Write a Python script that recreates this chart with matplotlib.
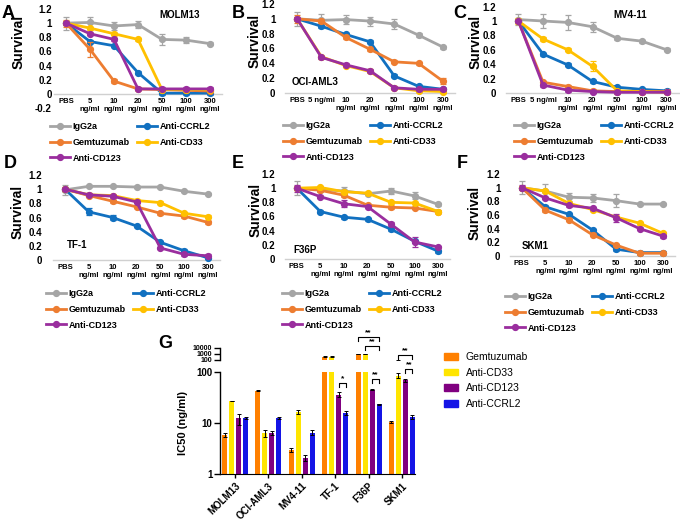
import matplotlib
matplotlib.use('Agg')
import matplotlib.pyplot as plt
import numpy as np
from matplotlib.lines import Line2D
from matplotlib.patches import Patch

plt.rcParams['font.family'] = ['Liberation Sans', 'DejaVu Sans']
plt.rcParams['font.weight'] = 'bold'
plt.rcParams['axes.labelweight'] = 'bold'

W, H = 680, 524
fig = plt.figure(figsize=(W / 100, H / 100), dpi=100)


def rect(l, r, t, b):
    return [l / W, 1 - b / H, (r - l) / W, (b - t) / H]


# ---------------- data ----------------
series_names = ['IgG2a', 'Anti-CCRL2', 'Gemtuzumab', 'Anti-CD33', 'Anti-CD123']
series_colors = ['#A5A5A5', '#1170C0', '#ED7D31', '#FFC000', '#9A2E9E']
doses = ['PBS', '5', '10', '20', '50', '100', '300']

# MOLM13
molm13_igg2a = [1.00, 1.01, 0.96, 0.98, 0.77, 0.76, 0.71]
molm13_ccrl2 = [1.00, 0.74, 0.68, 0.30, 0.01, 0.01, 0.01]
molm13_gem = [1.00, 0.63, 0.18, 0.07, 0.06, 0.05, 0.04]
molm13_cd33 = [1.00, 0.93, 0.85, 0.77, 0.06, 0.06, 0.06]
molm13_cd123 = [1.00, 0.85, 0.77, 0.07, 0.07, 0.07, 0.07]
molm13_err_igg2a = [0.09, 0.08, 0.05, 0.05, 0.08, 0.04, 0.02]
molm13_err_gem = [0.05, 0.11, 0.03, 0.02, 0.02, 0.02, 0.02]

# OCI-AML3
oci_igg2a = [1.00, 0.98, 0.99, 0.97, 0.93, 0.78, 0.62]
oci_ccrl2 = [1.00, 0.90, 0.79, 0.69, 0.23, 0.09, 0.05]
oci_gem = [1.00, 0.97, 0.75, 0.59, 0.42, 0.40, 0.16]
oci_cd33 = [1.00, 0.49, 0.37, 0.29, 0.07, 0.03, 0.02]
oci_cd123 = [1.00, 0.48, 0.38, 0.30, 0.07, 0.05, 0.05]
oci_err_igg2a = [0.09, 0.09, 0.06, 0.06, 0.07, 0.03, 0.02]
oci_err_gem = [0.05, 0.03, 0.02, 0.02, 0.02, 0.02, 0.04]

# MV4-11
mv4_igg2a = [1.02, 1.00, 0.98, 0.92, 0.76, 0.72, 0.60]
mv4_ccrl2 = [1.00, 0.54, 0.39, 0.16, 0.08, 0.05, 0.03]
mv4_gem = [1.00, 0.15, 0.09, 0.03, 0.02, 0.02, 0.02]
mv4_cd33 = [1.00, 0.75, 0.60, 0.37, 0.03, 0.02, 0.01]
mv4_cd123 = [1.00, 0.11, 0.04, 0.02, 0.01, 0.01, 0.01]
mv4_err_igg2a = [0.08, 0.10, 0.10, 0.07, 0.02, 0.02, 0.02]
mv4_err_cd33 = [0.04, 0.03, 0.02, 0.07, 0.01, 0.01, 0.01]

# TF-1
tf1_igg2a = [0.99, 1.04, 1.04, 1.03, 1.03, 0.97, 0.93]
tf1_ccrl2 = [1.00, 0.68, 0.60, 0.48, 0.25, 0.13, 0.03]
tf1_gem = [1.00, 0.91, 0.83, 0.75, 0.66, 0.62, 0.53]
tf1_cd33 = [1.00, 0.92, 0.91, 0.84, 0.81, 0.66, 0.61]
tf1_cd123 = [1.00, 0.92, 0.90, 0.82, 0.17, 0.08, 0.06]
tf1_err_igg2a = [0.07, 0.01, 0.01, 0.01, 0.01, 0.01, 0.01]
tf1_err_ccrl2 = [0.03, 0.05, 0.04, 0.02, 0.02, 0.02, 0.01]

# F36P
f36p_igg2a = [1.00, 0.98, 0.96, 0.92, 0.96, 0.89, 0.77]
f36p_ccrl2 = [1.00, 0.67, 0.59, 0.56, 0.42, 0.25, 0.11]
f36p_gem = [1.00, 0.97, 0.90, 0.76, 0.73, 0.72, 0.67]
f36p_cd33 = [1.00, 1.01, 0.95, 0.93, 0.80, 0.79, 0.67]
f36p_cd123 = [1.00, 0.88, 0.78, 0.74, 0.49, 0.24, 0.17]
f36p_err_igg2a = [0.10, 0.03, 0.06, 0.02, 0.04, 0.05, 0.02]
f36p_err_cd123 = [0.05, 0.02, 0.05, 0.02, 0.03, 0.07, 0.02]

# SKM1
skm1_igg2a = [1.00, 0.95, 0.86, 0.85, 0.81, 0.76, 0.76]
skm1_ccrl2 = [1.00, 0.72, 0.61, 0.38, 0.10, 0.05, 0.05]
skm1_gem = [1.00, 0.67, 0.53, 0.31, 0.16, 0.04, 0.04]
skm1_cd33 = [1.00, 0.95, 0.77, 0.68, 0.57, 0.48, 0.33]
skm1_cd123 = [1.00, 0.85, 0.74, 0.70, 0.56, 0.40, 0.29]
skm1_err_igg2a = [0.10, 0.10, 0.06, 0.06, 0.10, 0.02, 0.02]
skm1_err_cd123 = [0.04, 0.02, 0.02, 0.02, 0.06, 0.02, 0.02]

# IC50 (panel G)
cell_lines = ['MOLM13', 'OCI-AML3', 'MV4-11', 'TF-1', 'F36P', 'SKM1']
ic50_gem = [5.8, 43, 3.0, 350, 1000, 10.6]
ic50_cd33 = [27, 6.4, 16.5, 350, 1000, 85]
ic50_cd123 = [12.3, 6.4, 2.1, 36, 45, 69]
ic50_ccrl2 = [12.6, 12.6, 6.5, 16, 23.5, 13.2]
ic50_err_gem = [0.5, 1.5, 0.3, 40, 150, 0.4]
ic50_err_cd33 = [0.6, 1.0, 1.3, 40, 150, 9]
ic50_err_cd123 = [3.0, 0.6, 0.3, 4, 1.5, 5]
ic50_err_ccrl2 = [0.4, 0.4, 0.7, 1.5, 0.6, 1.0]
bar_names = ['Gemtuzumab', 'Anti-CD33', 'Anti-CD123', 'Anti-CCRL2']
bar_colors = ['#FF8000', '#FFE500', '#800080', '#1414E6']

# --------------- line panels ---------------
panels = [
    dict(letter='A', name='MOLM13', box=(54, 222, 9, 108), ylim=(-0.2, 1.2),
         vals=[molm13_igg2a, molm13_ccrl2, molm13_gem, molm13_cd33, molm13_cd123],
         errs={0: molm13_err_igg2a, 2: molm13_err_gem}, onel=False, pad=1.5,
         title_xy=(180, 15), title_ha='center', surv=(19, 42),
         letter_xy=(8, 13), leg=(50, 122)),
    dict(letter='B', name='OCI-AML3', box=(285, 455, 4, 93), ylim=(0, 1.2),
         vals=[oci_igg2a, oci_ccrl2, oci_gem, oci_cd33, oci_cd123],
         errs={0: oci_err_igg2a, 2: oci_err_gem}, onel=True, pad=7,
         title_xy=(292, 82), title_ha='left', surv=(255, 41),
         letter_xy=(238, 13), leg=(283, 121)),
    dict(letter='C', name='MV4-11', box=(506, 679, 6.6, 93), ylim=(0, 1.2),
         vals=[mv4_igg2a, mv4_ccrl2, mv4_gem, mv4_cd33, mv4_cd123],
         errs={0: mv4_err_igg2a, 3: mv4_err_cd33}, onel=True, pad=7,
         title_xy=(630, 15), title_ha='center', surv=(476, 42),
         letter_xy=(460, 13), leg=(514, 121)),
    dict(letter='D', name='TF-1', box=(53, 220, 175, 260), ylim=(0, 1.2),
         vals=[tf1_igg2a, tf1_ccrl2, tf1_gem, tf1_cd33, tf1_cd123],
         errs={0: tf1_err_igg2a, 1: tf1_err_ccrl2}, onel=False, pad=8,
         title_xy=(67, 245), title_ha='left', surv=(18, 212),
         letter_xy=(10, 164), leg=(46, 289)),
    dict(letter='E', name='F36P', box=(285, 450, 174, 259), ylim=(0, 1.2),
         vals=[f36p_igg2a, f36p_ccrl2, f36p_gem, f36p_cd33, f36p_cd123],
         errs={0: f36p_err_igg2a, 4: f36p_err_cd123}, onel=False, pad=7,
         title_xy=(293, 250), title_ha='left', surv=(256, 210),
         letter_xy=(238, 164), leg=(282, 289)),
    dict(letter='F', name='SKM1', box=(510, 675, 174, 256), ylim=(0, 1.2),
         vals=[skm1_igg2a, skm1_ccrl2, skm1_gem, skm1_cd33, skm1_cd123],
         errs={0: skm1_err_igg2a, 4: skm1_err_cd123}, onel=False, pad=7,
         title_xy=(522, 246), title_ha='left', surv=(475, 213),
         letter_xy=(462, 164), leg=(505, 292)),
]

x = np.arange(len(doses))
for p in panels:
    l, r, t, b = p['box']
    ax = fig.add_axes(rect(l, r, t, b))
    for i, (vals, c) in enumerate(zip(p['vals'], series_colors)):
        err = p['errs'].get(i, [0.02] * len(doses))
        ax.errorbar(x, vals, yerr=err, color=c, lw=2, marker='o', ms=4.2,
                    capsize=2, elinewidth=0.9, capthick=0.9, clip_on=False,
                    zorder=3 + i)
    ax.set_xlim(-0.5, len(doses) - 0.5)
    ax.set_ylim(*p['ylim'])
    for s in ['top', 'right', 'left']:
        ax.spines[s].set_visible(False)
    ax.spines['bottom'].set_position(('data', 0))
    ax.spines['bottom'].set_color('#D0D0D0')
    ax.spines['bottom'].set_linewidth(1)
    ax.patch.set_alpha(0)
    ax.tick_params(axis='x', length=0, pad=3, labelsize=5.5)
    ax.tick_params(axis='y', length=0, pad=p['pad'], labelsize=7)
    yt = np.round(np.arange(p['ylim'][0], 1.21, 0.2), 1)
    ax.set_yticks(yt)
    ax.set_yticklabels(['0' if abs(v) < 1e-9 else ('1' if abs(v - 1) < 1e-9 else f'{v:.1f}')
                        for v in yt])
    labels = []
    for j, d in enumerate(doses):
        if j == 0:
            labels.append('PBS')
        elif j == 1 and p['onel']:
            labels.append(d + ' ng/ml')
        else:
            labels.append(d + '\nng/ml')
    ax.set_xticks(x)
    ax.set_xticklabels(labels)
    for tl in ax.get_xticklabels():
        tl.set_linespacing(1.25)
        tl.set_fontsize(5.5)
    # labels
    fig.text(p['surv'][0] / W, 1 - p['surv'][1] / H, 'Survival', rotation=90,
             ha='center', va='center', fontsize=10)
    fig.text(p['title_xy'][0] / W, 1 - p['title_xy'][1] / H, p['name'],
             ha=p['title_ha'], va='center', fontsize=7)
    fig.text(p['letter_xy'][0] / W, 1 - p['letter_xy'][1] / H, p['letter'],
             ha='center', va='center', fontsize=13)
    handles = [Line2D([], [], color=c, lw=2, marker='o', ms=4.2) for c in series_colors]
    order = [0, 2, 4, 1, 3]
    fig.legend([handles[i] for i in order], [series_names[i] for i in order],
               ncol=2, loc='upper left',
               bbox_to_anchor=(p['leg'][0] / W, 1 - p['leg'][1] / H),
               frameon=False, prop={'weight': 'bold', 'size': 6.5},
               handlelength=2.2, handletextpad=0.3, columnspacing=0.8,
               labelspacing=0.75, borderpad=0, borderaxespad=0)

# --------------- panel G ---------------
lower = fig.add_axes(rect(220, 415, 372, 474))
upper = fig.add_axes(rect(220, 415, 348, 360))
gx = np.arange(len(cell_lines))
offsets = [-0.315, -0.105, 0.105, 0.315]
vals_g = [ic50_gem, ic50_cd33, ic50_cd123, ic50_ccrl2]
errs_g = [ic50_err_gem, ic50_err_cd33, ic50_err_cd123, ic50_err_ccrl2]
for a in (lower, upper):
    a.set_yscale('log')
    for off, v, e, c in zip(offsets, vals_g, errs_g, bar_colors):
        a.bar(gx + off, v, width=0.15, color=c, edgecolor='none')
        a.errorbar(gx + off, v, yerr=e, fmt='none', ecolor='black',
                   elinewidth=0.7, capsize=1.2, capthick=0.7)
    a.set_xlim(-0.45, 5.39)
    for s in ['top', 'right']:
        a.spines[s].set_visible(False)
    a.spines['left'].set_linewidth(1)
    a.minorticks_off()

lower.set_ylim(1, 100)
lower.tick_params(axis='y', length=4, width=1, labelsize=7, pad=1.5)
lower.tick_params(axis='x', length=3, width=1, pad=2, labelsize=7)
lower.set_yticks([1, 10, 100])
lower.set_yticklabels(['1', '10', '100'])
lower.set_xticks(gx)
lower.set_xticklabels(cell_lines, rotation=45, ha='right', rotation_mode='anchor')
lower.yaxis.set_minor_locator(matplotlib.ticker.NullLocator())
lower.set_ylabel('IC50 (ng/ml)', fontsize=8, fontweight='bold')
lower.yaxis.set_label_coords(-0.165, 0.5)

upper.set_ylim(100, 10000)
upper.tick_params(axis='y', length=4, width=1, labelsize=5, pad=1.5)
upper.set_yticks([100, 1000, 10000])
upper.set_yticklabels(['100', '1000', '10000'])
upper.yaxis.set_minor_locator(matplotlib.ticker.NullLocator())
upper.spines['bottom'].set_visible(False)
upper.set_xticks([])
upper.patch.set_alpha(0)


def bracket(ax, x1, x2, y, text):
    leg = y * 0.85
    ax.plot([x1, x1, x2, x2], [leg, y, y, leg], color='black', lw=0.8,
            clip_on=False)
    ax.text((x1 + x2) / 2, y * 1.02, text, ha='center', va='bottom', fontsize=6)


bracket(lower, 3 + offsets[2], 3 + offsets[3], 61, '*')
bracket(lower, 4 + offsets[2], 4 + offsets[3], 73, '**')
bracket(lower, 4 + offsets[1], 4 + offsets[3], 323, '**')
bracket(lower, 4 + offsets[0], 4 + offsets[3], 486, '**')
bracket(lower, 5 + offsets[2], 5 + offsets[3], 114, '**')
bracket(lower, 5 + offsets[1], 5 + offsets[3], 215, '**')

fig.text(165 / W, 1 - 344 / H, 'G', ha='center', va='center', fontsize=13)

fig.legend([Patch(color=c) for c in bar_colors], bar_names, loc='upper left',
           bbox_to_anchor=(444 / W, 1 - 352 / H), frameon=False,
           prop={'weight': 'normal', 'size': 7.5}, handlelength=1.35,
           handleheight=0.6, handletextpad=0.75, labelspacing=0.55,
           borderpad=0, borderaxespad=0)

fig.savefig('out.png', dpi=100)
